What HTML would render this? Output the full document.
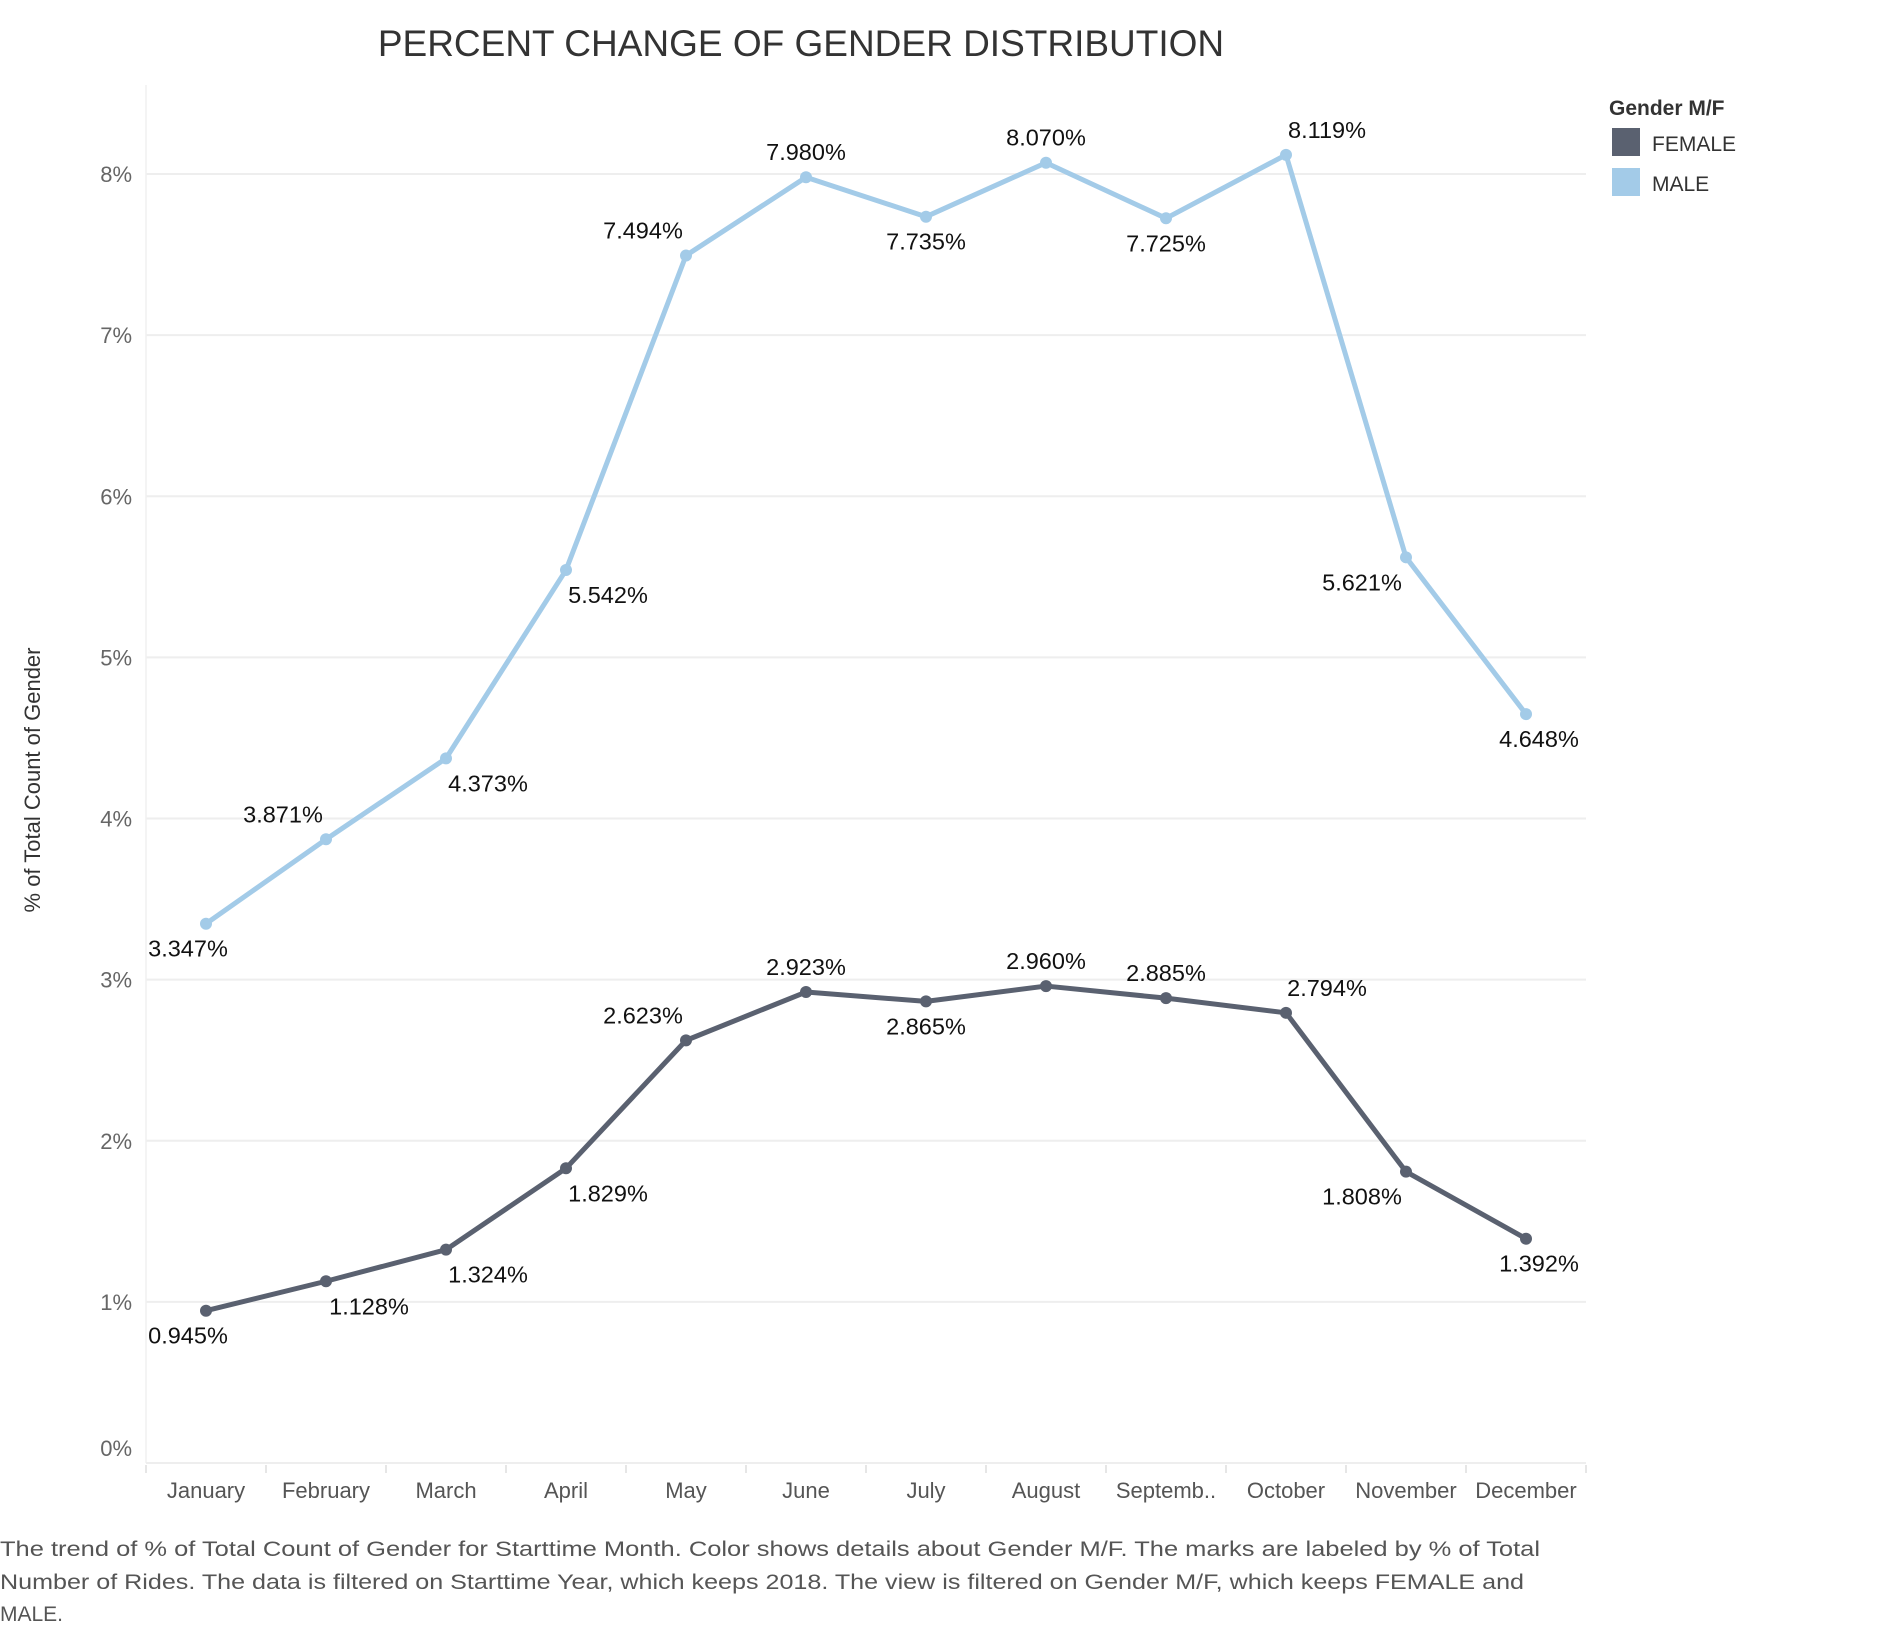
<!DOCTYPE html>
<html><head><meta charset="utf-8"><style>
body{margin:0;background:#fff;width:1886px;height:1624px;overflow:hidden;font-family:"Liberation Sans",sans-serif}
</style></head><body>
<svg width="1886" height="1624" xmlns="http://www.w3.org/2000/svg">
<text x="801" y="56" text-anchor="middle" font-size="37" fill="#333" font-family="Liberation Sans, sans-serif">PERCENT CHANGE OF GENDER DISTRIBUTION</text>
<g id="grid"></g><g id="axes"></g><g id="series"></g><g id="labels"></g>
<text transform="translate(40,780) rotate(-90)" text-anchor="middle" font-size="22" fill="#333">% of Total Count of Gender</text>
<g>
<text x="1609" y="115" font-size="21" font-weight="bold" fill="#333">Gender M/F</text>
<rect x="1612" y="128" width="28" height="28" fill="#5a6170"/>
<text x="1652" y="151" font-size="21" fill="#333">FEMALE</text>
<rect x="1612" y="168" width="28" height="28" fill="#a3cbe8"/>
<text x="1652" y="191" font-size="21" fill="#333">MALE</text>
</g>
<g font-size="21" fill="#555">
<text x="0" y="1556" textLength="1540" lengthAdjust="spacingAndGlyphs">The trend of % of Total Count of Gender for Starttime Month.  Color shows details about Gender M/F.  The marks are labeled by % of Total</text>
<text x="0" y="1589" textLength="1524" lengthAdjust="spacingAndGlyphs">Number of Rides. The data is filtered on Starttime Year, which keeps 2018. The view is filtered on Gender M/F, which keeps FEMALE and</text>
<text x="0" y="1621">MALE.</text>
</g>
</svg>
<script>
const months=["January","February","March","April","May","June","July","August","Septemb..","October","November","December"];
const maleValues=[3.347,3.871,4.373,5.542,7.494,7.980,7.735,8.070,7.725,8.119,5.621,4.648];
const femaleValues=[0.945,1.128,1.324,1.829,2.623,2.923,2.865,2.960,2.885,2.794,1.808,1.392];
const yTicks=[0,1,2,3,4,5,6,7,8];
const maleLabelPos=["b","a","b","b","a","a","b","a","b","a","b","b"];
const femaleLabelPos=["b","b","b","b","a","a","b","a","a","a","b","b"];
const labelDx=[-18,-43,42,42,-43,0,0,0,0,41,-44,13];
const femaleDx=[-18,43,42,42,-43,0,0,0,0,41,-44,13];
const NS="http://www.w3.org/2000/svg";
const x0=146,band=120,yTop=174,yZero=1463;
const xs=i=>x0+band*i+band/2;
const ys=v=>yZero-(yZero-yTop)*v/8;
function mk(tag,attrs,parent){const e=document.createElementNS(NS,tag);for(const k in attrs)e.setAttribute(k,attrs[k]);document.getElementById(parent).appendChild(e);return e;}
yTicks.forEach(t=>{
 if(t>0){const g=mk('line',{x1:146,x2:1586,y1:ys(t),y2:ys(t),stroke:'#eeeeee','stroke-width':2},'grid');
 
 }
 const ly=t===0?1456:ys(t)+8;
 const l=mk('text',{x:132,y:ly,'text-anchor':'end','font-size':22,fill:'#666'},'axes');l.textContent=t+'%';
 
 
});
const ax=mk('line',{x1:146,x2:146,y1:85,y2:1463,stroke:'#f0f0f0','stroke-width':1.5},'axes');


const bx=mk('line',{x1:146,x2:1586,y1:1463,y2:1463,stroke:'#eeeeee','stroke-width':2},'axes');


months.forEach((m,i)=>{
 const tk=mk('line',{x1:x0+band*i,x2:x0+band*i,y1:1465,y2:1473,stroke:'#e6e6e6','stroke-width':2},'axes');
 
 
 const t=mk('text',{x:xs(i),y:1498,'text-anchor':'middle','font-size':22,fill:'#555'},'axes');t.textContent=m;
 
 
});
if(true){const tk=mk('line',{x1:1586,x2:1586,y1:1465,y2:1473,stroke:'#e6e6e6','stroke-width':2},'axes');

}
function drawSeries(vals,color,name,pos,dx){
 const p=mk('polyline',{points:vals.map((v,i)=>xs(i)+','+ys(v)).join(' '),fill:'none',stroke:color,'stroke-width':5,'stroke-linejoin':'round'},'series');
 
 
 vals.forEach((v,i)=>{
  const c=mk('circle',{cx:xs(i),cy:ys(v),r:6,fill:color},'series');
  
  
  const t=mk('text',{x:xs(i)+dx[i],y:ys(v)+(pos[i]==='a'?-17:33),'text-anchor':'middle','font-size':23.5,fill:'#111'},'labels');
  t.textContent=v.toFixed(3)+'%';
  
  
 });
}
drawSeries(maleValues,'#a3cbe8','male',maleLabelPos,labelDx);
drawSeries(femaleValues,'#5a6170','female',femaleLabelPos,femaleDx);
</script>
</body></html>
